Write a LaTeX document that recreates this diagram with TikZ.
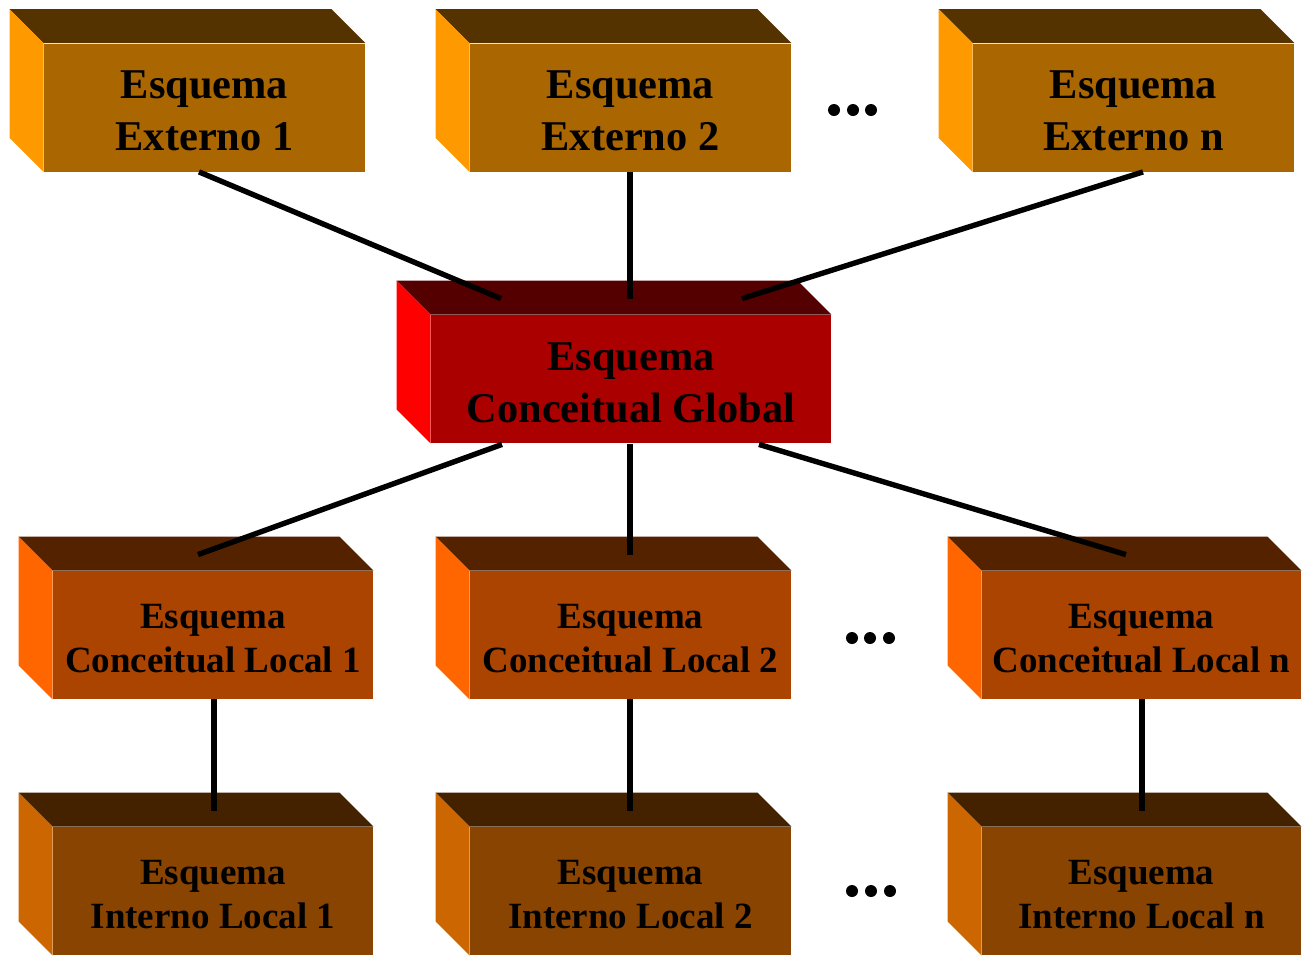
\documentclass[tikz,border=0pt]{standalone}
\usepackage{fontspec}
\setmainfont{Liberation Serif}
\usetikzlibrary{calc}

% face colours of the four kinds of block
\definecolor{extfront}{HTML}{AA6600}
\definecolor{exttop}{HTML}{553300}
\definecolor{extside}{HTML}{FF9900}
\definecolor{glbfront}{HTML}{AA0000}
\definecolor{glbtop}{HTML}{550000}
\definecolor{glbside}{HTML}{FF0000}
\definecolor{locfront}{HTML}{AA4400}
\definecolor{loctop}{HTML}{552200}
\definecolor{locside}{HTML}{FF6600}
\definecolor{intfront}{HTML}{884400}
\definecolor{inttop}{HTML}{442200}
\definecolor{intside}{HTML}{CC6600}

\tikzset{
  face/.style={rectangle, draw=none, inner sep=0pt, minimum height=64pt},
  bigtext/.style={align=center, inner sep=0pt, text=black,
    font={\fontsize{21.2pt}{26pt}\selectfont\bfseries}},
  smalltext/.style={align=center, inner sep=0pt, text=black,
    font={\fontsize{18.5pt}{22pt}\selectfont\bfseries}},
  link/.style={draw=black, line width=2.7pt},
  ellipsisdot/.style={fill=black}
}

% a block seen from the front, with its top and left faces
% #1 name, #2 centre x, #3 centre y, #4 front width (pt), #5 colour prefix, #6 text style, #7 text
\newcommand{\blockbox}[7]{%
  \node[face, fill=#5front, minimum width=#4] (#1) at (#2,#3) {};
  \fill[#5top] (#1.north west) -- ++(-34,-34) -- ($(#1.north east)+(-34,-34)$) -- (#1.north east) -- cycle;
  \fill[#5side] (#1.north west) -- ++(-34,-34) -- ($(#1.south west)+(-34,-34)$) -- (#1.south west) -- cycle;
  \node[#6] (#1-t) at ([yshift=-1.8pt]#1.center) {#7};
}

\begin{document}
\begin{tikzpicture}[x=0.5pt, y=-0.5pt]
\useasboundingbox (0,0) rectangle (1302,955);

% external schemas
\blockbox{e1}{204.5}{107.5}{160.5pt}{ext}{bigtext}{Esquema\\Externo 1}
\blockbox{e2}{630.5}{107.5}{160.5pt}{ext}{bigtext}{Esquema\\Externo 2}
\blockbox{en}{1133.5}{107.5}{160.5pt}{ext}{bigtext}{Esquema\\Externo n}

% global conceptual schema
\blockbox{g}{631}{379}{200pt}{glb}{bigtext}{Esquema\\Conceitual Global}

% local conceptual schemas
\blockbox{l1}{213}{635}{160pt}{loc}{smalltext}{Esquema\\Conceitual Local 1}
\blockbox{l2}{630.5}{635}{160.5pt}{loc}{smalltext}{Esquema\\Conceitual Local 2}
\blockbox{ln}{1141.5}{635}{159.5pt}{loc}{smalltext}{Esquema\\Conceitual Local n}

% local internal schemas
\blockbox{i1}{213}{891}{160pt}{int}{smalltext}{Esquema\\Interno Local 1}
\blockbox{i2}{630.5}{891}{160.5pt}{int}{smalltext}{Esquema\\Interno Local 2}
\blockbox{in}{1141.5}{891}{159.5pt}{int}{smalltext}{Esquema\\Interno Local n}

% connectors, ending on the top faces
\draw[link] ($(e1.south)+(-5.5,0)$) -- ($(g.north)+(-130,-16)$);
\draw[link] ($(e2.south)+(-0.5,0)$) -- ($(g.north)+(-1,-16)$);
\draw[link] ($(en.south)+(9.5,0)$) -- ($(g.north)+(111,-16)$);

\draw[link] ($(g.south)+(-129,1)$) -- ($(l1.north)+(-15,-16)$);
\draw[link] ($(g.south)+(-1,1)$) -- ($(l2.north)+(-0.5,-16)$);
\draw[link] ($(g.south)+(128,1)$) -- ($(ln.north)+(-15.5,-16)$);

\draw[link] ($(l1.south)+(1,0)$) -- ($(i1.north)+(1,-16)$);
\draw[link] ($(l2.south)+(-0.5,0)$) -- ($(i2.north)+(-0.5,-16)$);
\draw[link] ($(ln.south)+(0.5,0)$) -- ($(in.north)+(0.5,-16)$);

% ellipses between the last two columns
\foreach \x in {834,853,871} \fill[ellipsisdot] (\x,110) circle[radius=6];
\foreach \x in {852,870,889} \fill[ellipsisdot] (\x,638) circle[radius=6];
\foreach \x in {852,871,890} \fill[ellipsisdot] (\x,891) circle[radius=6];
\end{tikzpicture}
\end{document}
